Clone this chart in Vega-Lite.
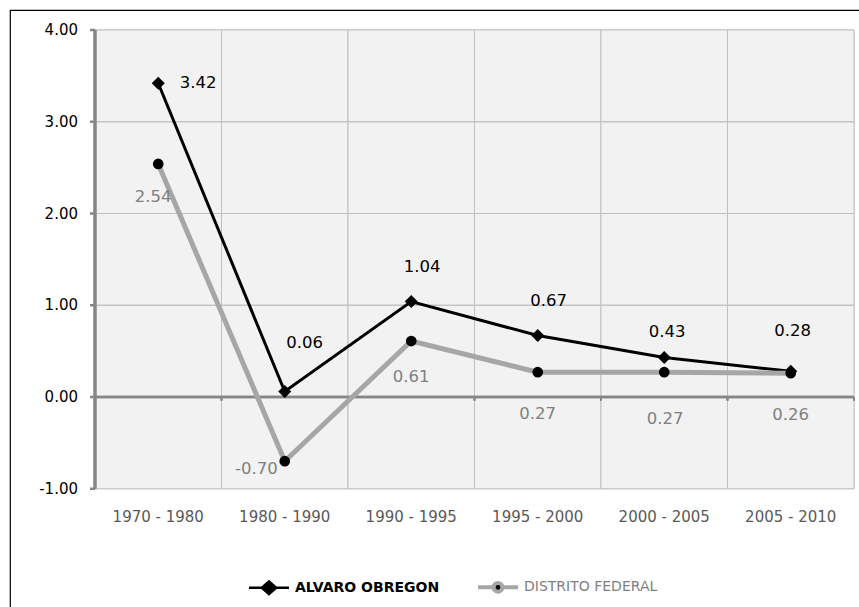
{
  "$schema": "https://vega.github.io/schema/vega-lite/v6.json",
  "autosize": "none",
  "width": 849,
  "height": 597,
  "padding": {"left": 10, "top": 10, "right": 0, "bottom": 0},
  "background": "#ffffff",
  "title": {"text": "Crecimiento en la Delegación 1970-2010", "anchor": "start", "frame": "group", "font": "Liberation Serif", "fontSize": 26, "fontWeight": "normal", "color": "#000000", "baseline": "bottom", "offset": -4, "dx": -18},
  "data": {"values": [
    {"period": "1970 - 1980", "serie": "ALVARO OBREGON", "value": 3.42},
    {"period": "1980 - 1990", "serie": "ALVARO OBREGON", "value": 0.06},
    {"period": "1990 - 1995", "serie": "ALVARO OBREGON", "value": 1.04},
    {"period": "1995 - 2000", "serie": "ALVARO OBREGON", "value": 0.67},
    {"period": "2000 - 2005", "serie": "ALVARO OBREGON", "value": 0.43},
    {"period": "2005 - 2010", "serie": "ALVARO OBREGON", "value": 0.28},
    {"period": "1970 - 1980", "serie": "DISTRITO FEDERAL", "value": 2.54},
    {"period": "1980 - 1990", "serie": "DISTRITO FEDERAL", "value": -0.70},
    {"period": "1990 - 1995", "serie": "DISTRITO FEDERAL", "value": 0.61},
    {"period": "1995 - 2000", "serie": "DISTRITO FEDERAL", "value": 0.27},
    {"period": "2000 - 2005", "serie": "DISTRITO FEDERAL", "value": 0.27},
    {"period": "2005 - 2010", "serie": "DISTRITO FEDERAL", "value": 0.26}
  ]},
  "layer": [
    {"mark": {"type": "rect", "fill": "#f2f2f2", "stroke": "#c0c0c0", "strokeWidth": 1},
     "encoding": {
       "x": {"field": "period", "type": "nominal",
         "scale": {"type": "band", "paddingInner": 0, "paddingOuter": 0.3557, "align": 0.9444}, "axis": null},
       "y": {"datum": -1, "type": "quantitative",
         "scale": {"domain": [-2.2888, 4.218], "nice": false, "zero": false}, "axis": null},
       "y2": {"datum": 4}}},
    {"mark": {"type": "tick", "color": "#c0c0c0", "thickness": 1, "size": 126.5, "opacity": 1},
     "encoding": {"x": {"field": "period", "type": "nominal", "axis": null}, "y": {"datum": 1, "type": "quantitative", "axis": null}}},
    {"mark": {"type": "tick", "color": "#c0c0c0", "thickness": 1, "size": 126.5, "opacity": 1},
     "encoding": {"x": {"field": "period", "type": "nominal", "axis": null}, "y": {"datum": 2, "type": "quantitative", "axis": null}}},
    {"mark": {"type": "tick", "color": "#c0c0c0", "thickness": 1, "size": 126.5, "opacity": 1},
     "encoding": {"x": {"field": "period", "type": "nominal", "axis": null}, "y": {"datum": 3, "type": "quantitative", "axis": null}}},
    {"mark": {"type": "tick", "color": "#868686", "thickness": 2.5, "size": 126.5, "opacity": 1},
     "encoding": {"x": {"field": "period", "type": "nominal", "axis": null}, "y": {"datum": 0, "type": "quantitative", "axis": null}}},
    {"mark": {"type": "rule", "color": "#868686", "strokeWidth": 2},
     "encoding": {"x": {"field": "period", "type": "nominal", "bandPosition": 0, "axis": null},
       "y": {"datum": 0, "type": "quantitative", "axis": null}, "y2": {"datum": -0.04}}},
    {"transform": [{"filter": "datum.period === '2005 - 2010'"}],
     "mark": {"type": "rule", "color": "#868686", "strokeWidth": 2},
     "encoding": {"x": {"field": "period", "type": "nominal", "bandPosition": 1, "axis": null},
       "y": {"datum": 0, "type": "quantitative", "axis": null}, "y2": {"datum": -0.04}}},
    {"transform": [{"filter": "datum.period === '1970 - 1980'"}],
     "mark": {"type": "rule", "color": "#868686", "strokeWidth": 3},
     "encoding": {"x": {"field": "period", "type": "nominal", "bandPosition": 0, "axis": null},
       "y": {"datum": -1, "type": "quantitative", "axis": null}, "y2": {"datum": 4}}},
    {"data": {"values": [{"tick": -1}, {"tick": 0}, {"tick": 1}, {"tick": 2}, {"tick": 3}, {"tick": 4}]},
     "mark": {"type": "point", "shape": "M-1,0H0", "filled": false, "size": 100, "stroke": "#868686", "strokeWidth": 2.5, "opacity": 1},
     "encoding": {"x": {"datum": "1970 - 1980", "type": "nominal", "bandPosition": 0, "axis": null},
       "y": {"field": "tick", "type": "quantitative", "axis": null}}},
    {"data": {"values": [{"tick": -1}, {"tick": 0}, {"tick": 1}, {"tick": 2}, {"tick": 3}, {"tick": 4}]},
     "mark": {"type": "text", "font": "DejaVu Sans", "fontSize": 15, "color": "#000000", "align": "right", "baseline": "middle", "dx": -17},
     "encoding": {"x": {"datum": "1970 - 1980", "type": "nominal", "bandPosition": 0, "axis": null},
       "y": {"field": "tick", "type": "quantitative", "axis": null},
       "text": {"field": "tick", "type": "quantitative", "format": ".2f"}}},
    {"transform": [{"filter": "datum.serie === 'ALVARO OBREGON'"}],
     "mark": {"type": "text", "font": "DejaVu Sans", "fontSize": 15, "color": "#595959", "align": "center", "baseline": "middle"},
     "encoding": {"x": {"field": "period", "type": "nominal", "axis": null},
       "y": {"datum": -1.308, "type": "quantitative", "axis": null},
       "text": {"field": "period", "type": "nominal"}}},
    {"transform": [{"filter": "datum.serie === 'ALVARO OBREGON'"}],
     "mark": {"type": "line", "strokeWidth": 3},
     "encoding": {
       "x": {"field": "period", "type": "nominal", "axis": null},
       "y": {"field": "value", "type": "quantitative", "axis": null},
       "color": {"field": "serie", "type": "nominal",
         "scale": {"domain": ["ALVARO OBREGON", "DISTRITO FEDERAL"], "range": ["#000000", "#a6a6a6"]},
         "legend": {"orient": "none", "legendX": 252, "legendY": 570, "direction": "horizontal", "title": null, "symbolSize": 1600, "symbolType": "stroke", "labelFont": "DejaVu Sans", "labelFontSize": 14, "labelOffset": 19, "columnPadding": 30, "padding": 0,
           "encode": {
             "symbols": {"update": {
               "shape": {"signal": "datum.value === 'ALVARO OBREGON' ? 'M-1,0H1M0,-0.32L0.36,0L0,0.32L-0.36,0Z' : 'M-1,0H-0.22M0.22,0H1M0.22,0A0.22,0.22 0 1,1 -0.22,0A0.22,0.22 0 1,1 0.22,0Z'"},
               "size": {"value": 1600},
               "fill": {"value": "#000000"},
               "fillOpacity": {"value": 1},
               "stroke": {"signal": "datum.value === 'ALVARO OBREGON' ? '#000000' : '#a6a6a6'"},
               "strokeWidth": {"signal": "datum.value === 'ALVARO OBREGON' ? 2.5 : 4"},
               "opacity": {"value": 1}}},
             "labels": {"update": {
               "fontWeight": {"signal": "datum.value === 'ALVARO OBREGON' ? 'bold' : 'normal'"},
               "fill": {"signal": "datum.value === 'ALVARO OBREGON' ? '#000000' : '#7f7f7f'"}}}}}}}},
    {"transform": [{"filter": "datum.serie === 'ALVARO OBREGON'"}],
     "mark": {"type": "point", "shape": "diamond", "filled": true, "size": 170, "color": "#000000", "opacity": 1},
     "encoding": {"x": {"field": "period", "type": "nominal", "axis": null}, "y": {"field": "value", "type": "quantitative", "axis": null}}},
    {"transform": [{"filter": "datum.serie === 'DISTRITO FEDERAL'"}],
     "mark": {"type": "line", "strokeWidth": 5},
     "encoding": {
       "x": {"field": "period", "type": "nominal", "axis": null},
       "y": {"field": "value", "type": "quantitative", "axis": null},
       "color": {"field": "serie", "type": "nominal"}}},
    {"transform": [{"filter": "datum.serie === 'DISTRITO FEDERAL'"}],
     "mark": {"type": "point", "shape": "circle", "filled": true, "size": 115, "color": "#000000", "opacity": 1},
     "encoding": {"x": {"field": "period", "type": "nominal", "axis": null}, "y": {"field": "value", "type": "quantitative", "axis": null}}},
    {"transform": [{"filter": "datum.serie === 'ALVARO OBREGON' && datum.period === '1970 - 1980'"}],
     "mark": {"type": "text", "font": "DejaVu Sans", "fontSize": 16.5, "color": "#000000", "baseline": "middle", "dx": 40, "dy": 0},
     "encoding": {"x": {"field": "period", "type": "nominal", "axis": null}, "y": {"field": "value", "type": "quantitative", "axis": null}, "text": {"field": "value", "type": "quantitative", "format": ".2f"}}},
    {"transform": [{"filter": "datum.serie === 'ALVARO OBREGON' && datum.period === '1980 - 1990'"}],
     "mark": {"type": "text", "font": "DejaVu Sans", "fontSize": 16.5, "color": "#000000", "baseline": "middle", "dx": 20, "dy": -48},
     "encoding": {"x": {"field": "period", "type": "nominal", "axis": null}, "y": {"field": "value", "type": "quantitative", "axis": null}, "text": {"field": "value", "type": "quantitative", "format": ".2f"}}},
    {"transform": [{"filter": "datum.serie === 'ALVARO OBREGON' && (datum.period === '1990 - 1995' || datum.period === '1995 - 2000')"}],
     "mark": {"type": "text", "font": "DejaVu Sans", "fontSize": 16.5, "color": "#000000", "baseline": "middle", "dx": 11, "dy": -34.5},
     "encoding": {"x": {"field": "period", "type": "nominal", "axis": null}, "y": {"field": "value", "type": "quantitative", "axis": null}, "text": {"field": "value", "type": "quantitative", "format": ".2f"}}},
    {"transform": [{"filter": "datum.serie === 'ALVARO OBREGON' && datum.period === '2000 - 2005'"}],
     "mark": {"type": "text", "font": "DejaVu Sans", "fontSize": 16.5, "color": "#000000", "baseline": "middle", "dx": 3, "dy": -26},
     "encoding": {"x": {"field": "period", "type": "nominal", "axis": null}, "y": {"field": "value", "type": "quantitative", "axis": null}, "text": {"field": "value", "type": "quantitative", "format": ".2f"}}},
    {"transform": [{"filter": "datum.serie === 'ALVARO OBREGON' && datum.period === '2005 - 2010'"}],
     "mark": {"type": "text", "font": "DejaVu Sans", "fontSize": 16.5, "color": "#000000", "baseline": "middle", "dx": 2, "dy": -40},
     "encoding": {"x": {"field": "period", "type": "nominal", "axis": null}, "y": {"field": "value", "type": "quantitative", "axis": null}, "text": {"field": "value", "type": "quantitative", "format": ".2f"}}},
    {"transform": [{"filter": "datum.serie === 'DISTRITO FEDERAL' && datum.period === '1970 - 1980'"}],
     "mark": {"type": "text", "font": "DejaVu Sans", "fontSize": 16.5, "color": "#808080", "baseline": "middle", "dx": -5, "dy": 33},
     "encoding": {"x": {"field": "period", "type": "nominal", "axis": null}, "y": {"field": "value", "type": "quantitative", "axis": null}, "text": {"field": "value", "type": "quantitative", "format": ".2f"}}},
    {"transform": [{"filter": "datum.serie === 'DISTRITO FEDERAL' && datum.period === '1980 - 1990'"}],
     "mark": {"type": "text", "font": "DejaVu Sans", "fontSize": 16.5, "color": "#808080", "baseline": "middle", "align": "right", "dx": -7, "dy": 8},
     "encoding": {"x": {"field": "period", "type": "nominal", "axis": null}, "y": {"field": "value", "type": "quantitative", "axis": null}, "text": {"field": "value", "type": "quantitative", "format": ".2f"}}},
    {"transform": [{"filter": "datum.serie === 'DISTRITO FEDERAL' && datum.period === '1990 - 1995'"}],
     "mark": {"type": "text", "font": "DejaVu Sans", "fontSize": 16.5, "color": "#808080", "baseline": "middle", "dx": 0, "dy": 35.5},
     "encoding": {"x": {"field": "period", "type": "nominal", "axis": null}, "y": {"field": "value", "type": "quantitative", "axis": null}, "text": {"field": "value", "type": "quantitative", "format": ".2f"}}},
    {"transform": [{"filter": "datum.serie === 'DISTRITO FEDERAL' && (datum.period === '1995 - 2000' || datum.period === '2005 - 2010')"}],
     "mark": {"type": "text", "font": "DejaVu Sans", "fontSize": 16.5, "color": "#808080", "baseline": "middle", "dx": 0, "dy": 42},
     "encoding": {"x": {"field": "period", "type": "nominal", "axis": null}, "y": {"field": "value", "type": "quantitative", "axis": null}, "text": {"field": "value", "type": "quantitative", "format": ".2f"}}},
    {"transform": [{"filter": "datum.serie === 'DISTRITO FEDERAL' && datum.period === '2000 - 2005'"}],
     "mark": {"type": "text", "font": "DejaVu Sans", "fontSize": 16.5, "color": "#808080", "baseline": "middle", "dx": 1, "dy": 47},
     "encoding": {"x": {"field": "period", "type": "nominal", "axis": null}, "y": {"field": "value", "type": "quantitative", "axis": null}, "text": {"field": "value", "type": "quantitative", "format": ".2f"}}}
  ],
  "config": {
    "locale": {"number": {"decimal": ".", "thousands": ",", "grouping": [3], "currency": ["$", ""], "minus": "-"}},
    "view": {"stroke": "#000000", "strokeWidth": 1.2, "fill": "#ffffff", "strokeDash": [849, 1446, 597]}
  }
}
